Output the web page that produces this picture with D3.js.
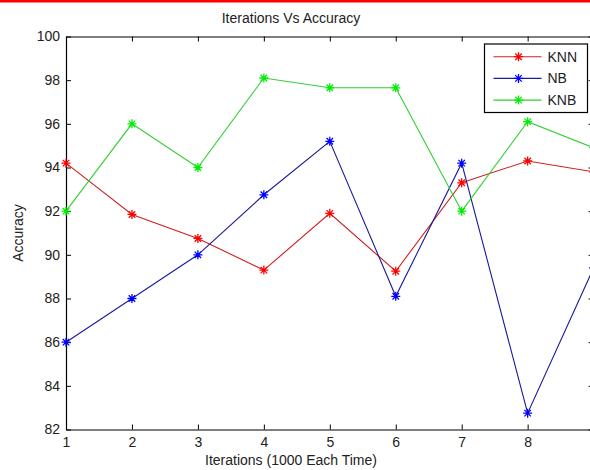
<!DOCTYPE html>
<html lang="en">
    <head>
        <meta charset="utf-8">
        <title>Iterations Vs Accuracy</title>
        <script src="https://d3js.org/d3.v7.min.js"></script>
        <style>
            html, body {
                margin: 0;
                padding: 0;
                overflow: hidden;
                background: white;
            }
            svg {
                display: block;
            }
            text {
                font-family: "Liberation Sans", Arial, sans-serif;
                font-size: 14px;
                fill: #222;
            }
        </style>
    </head>
    <body>
        <script type="text/javascript">

            var iterations = [1, 2, 3, 4, 5, 6, 7, 8, 9];
            var knn = [94.2, 91.85, 90.75, 89.3, 91.9, 89.25, 93.3, 94.3, 93.8];
            var nb  = [86, 88, 90, 92.75, 95.2, 88.1, 94.2, 82.75, 89.4];
            var knb = [92, 96, 94, 98.1, 97.65, 97.65, 92, 96.1, 94.9];
            var seriesNames = ["KNN", "NB", "KNB"];
            var yTicks = [82, 84, 86, 88, 90, 92, 94, 96, 98, 100];

            var outerWidth = 590;
            var outerHeight = 470;
            // plot box runs past the right edge of the window
            var margin = { left: 66, top: 36.5, right: -3.6, bottom: 40.5 };
            var innerWidth = outerWidth - margin.left - margin.right;
            var innerHeight = outerHeight - margin.top - margin.bottom;

            var series = [
                { name: seriesNames[0], values: knn, color: "#ff0000", line: "#d02020" },
                { name: seriesNames[1], values: nb,  color: "#0000ff", line: "#1a1a9a" },
                { name: seriesNames[2], values: knb, color: "#00ee00", line: "#30d030" }
            ];

            var svg = d3.select("body")
                        .append("svg")
                        .attr("width", outerWidth)
                        .attr("height", outerHeight);

            // red strip along the top of the screenshot
            svg.append("rect")
                .attr("x", 0).attr("y", 0)
                .attr("width", outerWidth).attr("height", 2.5)
                .attr("fill", "#ff0000");

            var g = svg.append("g")
                .attr("transform", `translate(${margin.left},${margin.top})`);

            var xScale = d3.scaleLinear()
                            .domain([1, 9])
                            .range([0, innerWidth]);

            var yScale = d3.scaleLinear()
                            .domain([82, 100])
                            .range([innerHeight, 0]);

            // labels only for ticks that fall inside the window
            var xLabelled = iterations.filter(d => xScale(d) + margin.left < outerWidth - 4);

            // axes box with inward ticks on all four sides
            var tickLen = 5;
            g.append("g")
                .attr("transform", `translate(0,${innerHeight})`)
                .call(d3.axisBottom(xScale).tickValues(xLabelled).tickSizeInner(-tickLen).tickSizeOuter(0).tickPadding(8).tickFormat(d3.format("d")));
            g.append("g")
                .attr("class", "bare")
                .call(d3.axisTop(xScale).tickValues(iterations).tickSizeInner(-tickLen).tickSizeOuter(0));
            g.append("g")
                .call(d3.axisLeft(yScale).tickValues(yTicks).tickSizeInner(-tickLen).tickSizeOuter(0).tickPadding(6));
            g.append("g")
                .attr("class", "bare")
                .attr("transform", `translate(${innerWidth},0)`)
                .call(d3.axisRight(yScale).tickValues(yTicks).tickSizeInner(-tickLen).tickSizeOuter(0));

            g.selectAll(".bare .tick text").remove();
            g.selectAll(".domain").attr("stroke", "#000").attr("stroke-width", 1.2);
            g.selectAll(".tick line").attr("stroke", "#000");
            g.selectAll(".tick text").style("font-size", "14px").attr("fill", "#222").attr("font-family", null);

            var line = d3.line()
                .x((d, i) => xScale(iterations[i]))
                .y(d => yScale(d));

            // matlab style '*' marker: plus and cross overlaid
            function star(sel, r) {
                var r2 = r * 0.72;
                sel.append("path")
                    .attr("d", `M${-r},0H${r}M0,${-r}V${r}M${-r2},${-r2}L${r2},${r2}M${-r2},${r2}L${r2},${-r2}`);
            }

            series.forEach(function(s) {
                g.append("path")
                    .datum(s.values)
                    .attr("fill", "none")
                    .attr("stroke", s.line)
                    .attr("stroke-width", 1.1)
                    .attr("d", line);

                g.selectAll(null)
                    .data(s.values)
                    .enter()
                    .append("g")
                    .attr("transform", (d, i) => `translate(${xScale(iterations[i])},${yScale(d)})`)
                    .attr("stroke", s.color)
                    .attr("stroke-width", 1.3)
                    .each(function() { star(d3.select(this), 4.5); });
            });

            // title and axis labels
            svg.append("text")
                .attr("x", 291)
                .attr("y", 23)
                .attr("text-anchor", "middle")
                .text("Iterations Vs Accuracy");

            svg.append("text")
                .attr("x", 291)
                .attr("y", 465)
                .attr("text-anchor", "middle")
                .text("Iterations (1000 Each Time)");

            svg.append("text")
                .attr("transform", "translate(23,233) rotate(-90)")
                .attr("text-anchor", "middle")
                .text("Accuracy");

            // legend
            var legend = svg.append("g")
                .attr("transform", "translate(484.5,44)");

            legend.append("rect")
                .attr("width", 103)
                .attr("height", 68.5)
                .attr("fill", "white")
                .attr("stroke", "#000")
                .attr("stroke-width", 1.2);

            var entry = legend.selectAll(".entry")
                .data(series)
                .enter()
                .append("g")
                .attr("transform", (d, i) => `translate(0,${12.7 + i * 21.7})`);

            entry.append("line")
                .attr("x1", 9).attr("x2", 57)
                .attr("stroke", d => d.line)
                .attr("stroke-width", 1.1);

            entry.append("g")
                .attr("transform", "translate(34,0)")
                .attr("stroke", d => d.color)
                .attr("stroke-width", 1.3)
                .each(function() { star(d3.select(this), 4.5); });

            entry.append("text")
                .attr("x", 63)
                .attr("y", 5)
                .text(d => d.name);

        </script>
    </body>
</html>
